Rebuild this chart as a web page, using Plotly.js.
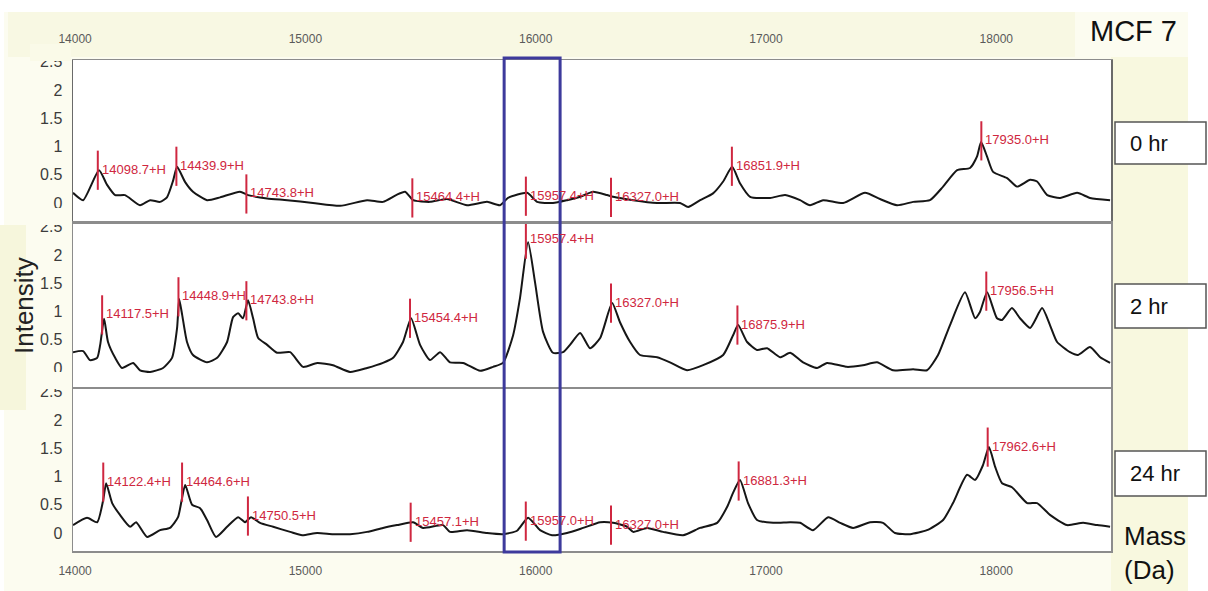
<!DOCTYPE html>
<html>
<head>
<meta charset="utf-8">
<script src="https://cdn.plot.ly/plotly-3.0.1.min.js"></script>
<style>html,body{margin:0;padding:0;background:#fff;}#chart{width:1208px;height:591px;}</style>
</head>
<body>
<div id="chart"></div>
<script>
// ---------- DATA ----------
const panelNames = ['0 hr', '2 hr', '24 hr'];
const xTicks = [14000, 15000, 16000, 17000, 18000];
const yTicks = [0, 0.5, 1, 1.5, 2, 2.5];
const yTickText = ['0', '0.5', '1', '1.5', '2', '2.5'];

// 0 hr spectrum
const mass0 = [13991,14035,14104,14139,14174,14217,14282,14326,14369,14399,14426,14443,14478,14512,14573,14630,14716,14751,14834,14921,15033,15151,15268,15337,15394,15433,15468,15541,15615,15702,15789,15845,15880,15963,16006,16075,16136,16193,16249,16310,16336,16423,16527,16627,16662,16714,16770,16814,16853,16887,16931,17018,17083,17148,17191,17248,17335,17430,17495,17569,17639,17712,17769,17830,17886,17916,17934,17960,17986,18047,18090,18147,18177,18221,18277,18351,18407,18494];
const int0 = [0.18,0.05,0.58,0.32,0.14,0.14,-0.04,0.05,0.02,0.10,0.40,0.64,0.37,0.20,0.05,0.10,0.20,0.14,0.08,0.05,0.00,-0.05,0.05,0.02,0.14,0.20,0.05,0.02,0.07,-0.04,0.02,-0.04,0.09,0.18,0.02,0.00,0.05,0.11,0.20,0.14,0.11,0.05,0.00,0.00,-0.07,0.05,0.17,0.38,0.64,0.35,0.11,0.09,0.14,0.05,-0.04,0.05,0.00,0.18,0.07,-0.04,0.02,0.05,0.29,0.58,0.62,0.82,1.08,0.82,0.55,0.44,0.29,0.41,0.38,0.14,0.09,0.18,0.09,0.05];

// 2 hr spectrum
const mass1 = [13991,14035,14065,14096,14109,14126,14143,14174,14204,14252,14282,14326,14382,14421,14443,14452,14465,14486,14512,14573,14617,14660,14686,14708,14729,14751,14773,14795,14834,14877,14934,14990,15051,15120,15194,15268,15337,15381,15424,15459,15498,15541,15585,15628,15685,15759,15815,15858,15902,15932,15967,15997,16032,16075,16119,16149,16193,16236,16280,16332,16366,16410,16453,16527,16583,16657,16727,16814,16857,16879,16918,16961,17005,17061,17105,17161,17222,17265,17352,17421,17482,17552,17639,17699,17747,17799,17864,17908,17929,17960,18003,18025,18068,18103,18147,18199,18233,18264,18320,18355,18407,18451,18494];
const int1 = [0.28,0.30,0.14,0.18,0.41,0.87,0.46,0.18,0.00,0.09,-0.04,-0.07,0.00,0.18,0.71,1.22,0.94,0.46,0.23,0.10,0.18,0.46,0.90,0.97,0.88,1.20,0.88,0.53,0.41,0.27,0.28,0.02,0.09,0.05,-0.07,0.00,0.09,0.18,0.46,0.88,0.41,0.14,0.28,0.10,0.09,-0.05,0.02,0.09,0.58,1.24,2.23,1.52,0.64,0.27,0.28,0.41,0.62,0.35,0.53,1.15,0.81,0.46,0.23,0.19,0.10,-0.04,0.05,0.23,0.58,0.76,0.46,0.32,0.35,0.19,0.27,0.10,0.00,0.09,0.02,0.05,0.10,-0.04,-0.02,-0.04,0.23,0.76,1.34,0.88,0.99,1.34,0.88,0.85,1.06,0.88,0.71,1.06,0.76,0.46,0.28,0.23,0.37,0.19,0.09];

// 24 hr spectrum
const mass2 = [13991,14052,14096,14122,14135,14161,14195,14239,14265,14313,14369,14412,14447,14478,14508,14543,14573,14612,14660,14708,14738,14764,14803,14860,14934,14986,15051,15120,15194,15268,15337,15398,15468,15511,15598,15628,15702,15789,15858,15919,15967,16019,16071,16136,16206,16280,16336,16397,16423,16484,16553,16640,16714,16788,16831,16857,16887,16922,16961,17031,17105,17148,17204,17270,17322,17378,17452,17508,17560,17626,17699,17769,17812,17873,17908,17942,17968,17995,18025,18068,18134,18177,18233,18307,18377,18438,18494];
const int2 = [0.14,0.27,0.19,0.58,0.88,0.53,0.32,0.11,0.19,-0.07,0.05,0.09,0.28,0.85,0.50,0.44,0.23,-0.07,0.11,0.28,0.19,0.28,0.18,0.11,0.02,-0.04,0.00,-0.02,-0.02,0.02,0.09,0.14,0.19,0.09,0.14,0.02,0.05,0.00,-0.02,0.04,0.27,0.05,-0.04,0.00,0.09,0.19,0.18,0.11,0.02,0.09,0.02,-0.04,0.09,0.18,0.46,0.71,0.94,0.53,0.23,0.18,0.19,0.18,0.05,0.28,0.18,0.09,0.19,0.18,0.00,-0.02,0.05,0.23,0.53,1.03,0.94,1.20,1.52,1.17,0.88,0.81,0.53,0.53,0.32,0.14,0.18,0.14,0.11];

// Peak annotations (mass, marker height)
const peakMass0 = [14098.7,14439.9,14743.8,15464.4,15957.4,16327.0,16851.9,17935.0];
const peakY0    = [0.58,0.65,0.16,0.09,0.12,0.10,0.65,1.10];
const peakMass1 = [14117.5,14448.9,14743.8,15454.4,15957.4,16327.0,16875.9,17956.5];
const peakY1    = [0.94,1.26,1.19,0.88,2.28,1.15,0.76,1.36];
const peakMass2 = [14122.4,14464.6,14750.5,15457.1,15957.0,16327.0,16881.3,17962.6];
const peakY2    = [0.90,0.90,0.30,0.19,0.21,0.14,0.92,1.52];

// highlighted mass window
const boxMass = [15863, 16106];

// ---------- LAYOUT HELPERS ----------
const FONT = 'Liberation Sans, Arial, Helvetica, sans-serif';
const L = 73, R = 1111, T = 60, B = 551;
const PX = x => (x - L) / (R - L);
const PY = y => (B - y) / (B - T);
const RED = '#cf2740';

const masses = [mass0, mass1, mass2];
const ints = [int0, int1, int2];
const pM = [peakMass0, peakMass1, peakMass2];
const pY = [peakY0, peakY1, peakY2];
const sfx = ['', '2', '3'];
const panelTop = [60, 224, 388];
const panelBot = [221, 387, 551];
const zeroPx = [203, 368, 533];
const pxPerUnit = 56.5;

const traces = [];
const annotations = [];
for (let i = 0; i < 3; i++) {
  traces.push({
    x: masses[i], y: ints[i], type: 'scatter', mode: 'lines',
    line: {color: '#161616', width: 2, shape: 'spline', smoothing: 0.55}, hoverinfo: 'skip',
    xaxis: 'x' + sfx[i], yaxis: 'y' + sfx[i], showlegend: false
  });
  traces.push({
    x: pM[i], y: pY[i], type: 'scatter', mode: 'markers',
    marker: {symbol: 'line-ns-open', size: 28, color: RED, line: {color: RED, width: 2}},
    hoverinfo: 'skip', xaxis: 'x' + sfx[i], yaxis: 'y' + sfx[i], showlegend: false
  });
  pM[i].forEach((m, k) => {
    annotations.push({
      x: m, y: pY[i][k], xref: 'x' + sfx[i], yref: 'y' + sfx[i],
      text: m.toFixed(1) + '+H', showarrow: false, xanchor: 'left', yanchor: 'middle',
      xshift: 2, yshift: 1, font: {family: FONT, size: 13, color: RED}
    });
  });
}

const layout = {
  width: 1208, height: 591,
  margin: {l: L, r: 1208 - R, t: T, b: 591 - B, pad: 0},
  paper_bgcolor: '#ffffff', plot_bgcolor: '#ffffff',
  showlegend: false,
  font: {family: FONT},
  annotations: annotations,
  shapes: []
};

for (let i = 0; i < 3; i++) {
  const top = panelTop[i], bot = panelBot[i], z = zeroPx[i];
  layout['xaxis' + sfx[i]] = {
    domain: [0, 1], anchor: 'y' + sfx[i],
    range: [13991, 18498], showgrid: false, zeroline: false,
    showline: true, mirror: true, linecolor: '#8c8c8c', linewidth: 1.5,
    tickvals: xTicks, ticktext: xTicks.map(String),
    showticklabels: i !== 1, side: i === 0 ? 'top' : 'bottom',
    ticks: i === 1 ? '' : 'outside', ticklen: i === 0 ? 11 : 8, tickcolor: 'rgba(0,0,0,0)',
    tickfont: {family: FONT, size: 12, color: '#5a5a5a'}
  };
  layout['yaxis' + sfx[i]] = {
    domain: [PY(bot), PY(top)], anchor: 'x' + sfx[i],
    range: [(z - bot) / pxPerUnit, (z - top) / pxPerUnit],
    showgrid: false, zeroline: false,
    showline: true, mirror: true, linecolor: i === 0 ? '#6a6a6a' : '#8c8c8c', linewidth: 1.5,
    tickvals: yTicks, ticktext: yTickText, ticks: 'outside', ticklen: 6, tickcolor: 'rgba(0,0,0,0)',
    tickfont: {family: FONT, size: 16, color: '#3c3c3c'}
  };
}

// background tints
const bg = (x0, y0, x1, y1, c, layer) => ({
  type: 'rect', xref: 'paper', yref: 'paper', x0: PX(x0), x1: PX(x1), y0: PY(y1), y1: PY(y0),
  fillcolor: c, line: {width: 0}, layer: layer || 'below'
});
layout.shapes.push(bg(4, 12, 1188, 591, '#fcfcf0'));
layout.shapes.push(bg(8, 12, 1075, 57, '#f8f8e3'));
layout.shapes.push(bg(1111, 57, 1188, 591, '#f8f8df'));
layout.shapes.push(bg(0, 225, 26, 410, '#f6f6dc'));
layout.shapes.push(bg(L, T, R, B, '#ffffff'));
// partially hidden top tick labels
for (let i = 0; i < 3; i++) {
  layout.shapes.push(bg(30, panelTop[i] - 16, 71, panelTop[i] + 1, i === 0 ? '#fafae8' : '#fcfcf0', 'above'));
}
// highlight box
layout.shapes.push({
  type: 'rect', xref: 'x', yref: 'paper', x0: boxMass[0], x1: boxMass[1],
  y0: PY(552), y1: PY(58), line: {color: '#3d3a9c', width: 3}, fillcolor: 'rgba(0,0,0,0)', layer: 'above'
});
// time boxes
const boxY = [[122, 164], [284, 328], [451, 496]];
for (let i = 0; i < 3; i++) {
  layout.shapes.push({
    type: 'rect', xref: 'paper', yref: 'paper', x0: PX(1115), x1: PX(1206),
    y0: PY(boxY[i][1]), y1: PY(boxY[i][0]), fillcolor: '#ffffff',
    line: {color: '#555555', width: 1.5}, layer: 'above'
  });
  annotations.push({
    x: PX(1128), y: PY((boxY[i][0] + boxY[i][1]) / 2), xref: 'paper', yref: 'paper',
    text: panelNames[i], showarrow: false, xanchor: 'left', yanchor: 'middle',
    font: {family: FONT, size: 22, color: '#111'}
  });
}
annotations.push({x: PX(1088), y: PY(31), xref: 'paper', yref: 'paper', text: 'MCF 7',
  showarrow: false, xanchor: 'left', yanchor: 'middle', font: {family: FONT, size: 29, color: '#111'}});
annotations.push({x: PX(1122), y: PY(536), xref: 'paper', yref: 'paper', text: 'Mass',
  showarrow: false, xanchor: 'left', yanchor: 'middle', font: {family: FONT, size: 26, color: '#111'}});
annotations.push({x: PX(1122), y: PY(570), xref: 'paper', yref: 'paper', text: '(Da)',
  showarrow: false, xanchor: 'left', yanchor: 'middle', font: {family: FONT, size: 26, color: '#111'}});
annotations.push({x: PX(24), y: PY(306), xref: 'paper', yref: 'paper', text: 'Intensity', textangle: -90,
  showarrow: false, xanchor: 'center', yanchor: 'middle', font: {family: FONT, size: 26, color: '#222'}});

Plotly.newPlot('chart', traces, layout, {displayModeBar: false, staticPlot: true});
</script>
</body>
</html>
